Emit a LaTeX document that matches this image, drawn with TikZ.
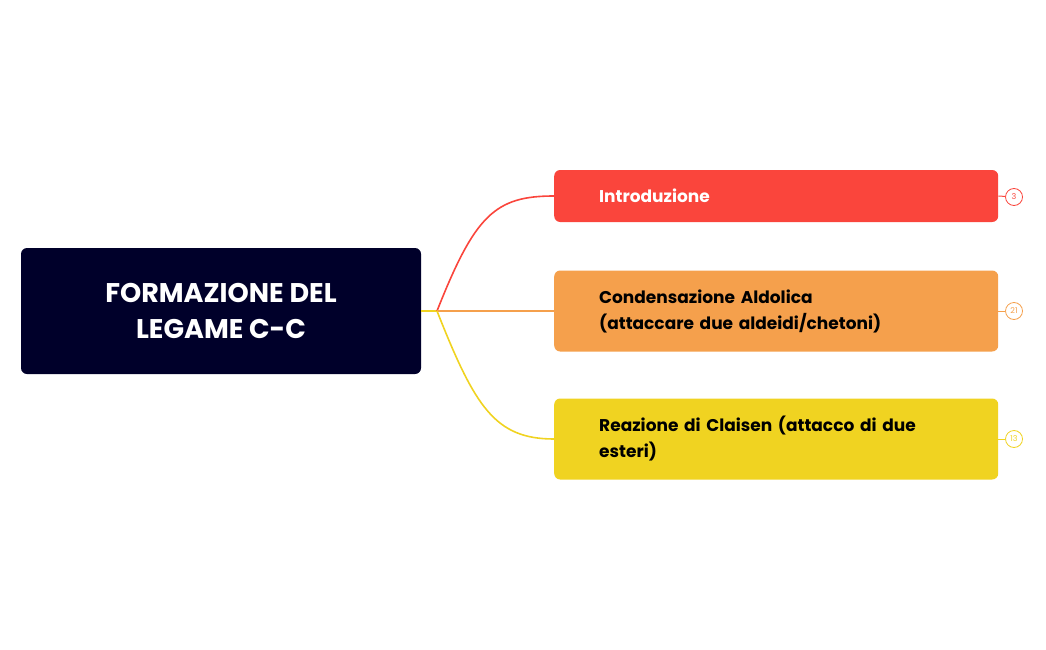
\documentclass[tikz,border=0pt]{standalone}
\usepackage{fontspec}
\setmainfont{Poppins}
\begin{document}
\begin{tikzpicture}[x=1pt,y=-1pt,
  box/.style={rounded corners=6pt,minimum width=444pt,text width=400pt,align=left,inner sep=0pt,anchor=west},
  badge/.style={circle,draw,line width=0.8pt,minimum size=17pt,inner sep=0pt,font=\fontsize{8}{8}\selectfont,fill=white},
  link/.style={line width=1.6pt}]
\definecolor{navy}{HTML}{00002A}
\definecolor{cred}{HTML}{FA453C}
\definecolor{corange}{HTML}{F5A04C}
\definecolor{cyellow}{HTML}{F0D321}
\useasboundingbox (0,0) rectangle (1046,650);
\node[fill=navy,rounded corners=6pt,minimum width=400pt,minimum height=126pt,text=white,align=center,font=\fontsize{27}{36}\selectfont\bfseries] (root) at (221,311) {FORMAZIONE DEL\\LEGAME C-C};
\coordinate (o) at (437,311);
\node[box,fill=cred,minimum height=52pt,text=white,font=\fontsize{17}{24}\selectfont\bfseries] (a) at (554,196) {\hspace*{23pt}Introduzione};
\node[box,fill=corange,minimum height=81pt,font=\fontsize{17}{26}\selectfont\bfseries] (b) at (554,311) {\hspace*{23pt}Condensazione Aldolica\\\hspace*{23pt}(attaccare due aldeidi/chetoni)};
\node[box,fill=cyellow,minimum height=81pt,font=\fontsize{17}{26}\selectfont\bfseries] (c) at (554,439) {\hspace*{23pt}Reazione di Claisen (attacco di due\\\hspace*{23pt}esteri)};
\draw[link,cyellow] (root.east) -- (o);
\draw[link,cred] (o) .. controls (475,215) and (495,196) .. (a.west);
\draw[link,corange] (o) -- (b.west);
\draw[link,cyellow] (o) .. controls (475,407) and (495,439) .. (c.west);
\node[badge,draw=cred,text=cred] (ba) at (1014,197) {3};
\node[badge,draw=corange,text=corange] (bb) at (1014,311) {21};
\node[badge,draw=cyellow,text=cyellow] (bc) at (1014,439) {13};
\draw[cred,line width=1pt] (a.east) -- (ba);
\draw[corange,line width=1pt] (b.east) -- (bb);
\draw[cyellow,line width=1pt] (c.east) -- (bc);
\end{tikzpicture}
\end{document}
